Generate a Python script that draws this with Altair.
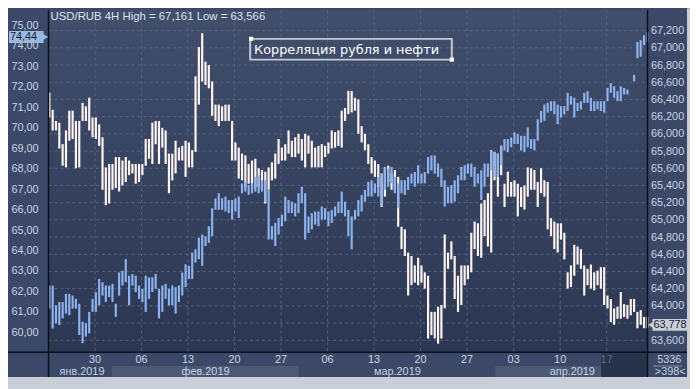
import altair as alt
import pandas as pd

# ---------------- data (12h sampling of the 4H bars) ----------------
rub_high = [66.48, 66.28, 66.15, 66.13, 65.88, 66.04, 66.27, 66.27, 66.15, 66.15,
            66.36, 66.32, 66.42, 66.19, 66.19, 66.11, 65.96, 65.61, 65.65, 65.65,
            65.73, 65.73, 65.69, 65.73, 65.69, 65.65, 65.65, 65.65, 65.65, 65.94,
            65.94, 66.13, 66.15, 66.15, 66.07, 66.04, 65.77, 65.77, 65.92, 65.84,
            65.86, 65.92, 65.90, 65.81, 66.67, 67.01, 67.17, 66.84, 66.80, 66.61,
            66.34, 66.34, 66.32, 66.34, 66.34, 66.15, 65.90, 65.84, 65.77, 65.75,
            65.65, 65.69, 65.71, 65.60, 65.58, 65.56, 65.61, 65.67, 65.77, 65.94,
            65.84, 65.88, 66.04, 65.92, 65.96, 66.00, 65.94, 66.00, 65.98, 65.92,
            65.84, 65.86, 65.88, 65.86, 65.90, 66.04, 66.02, 66.04, 66.27, 66.30,
            66.50, 66.50, 66.42, 66.40, 66.09, 66.00, 65.88, 65.73, 65.69, 65.65,
            65.54, 65.61, 65.63, 65.54, 65.58, 65.50, 64.92, 64.89, 64.62, 64.58,
            64.47, 64.56, 64.47, 64.39, 64.35, 63.93, 63.93, 63.99, 64.01, 64.83,
            64.62, 64.75, 64.58, 64.35, 64.47, 64.47, 64.47, 64.85, 64.98, 64.96,
            65.19, 65.23, 65.31, 65.81, 65.79, 65.77, 65.86, 65.42, 65.56, 65.44,
            65.46, 65.42, 65.38, 65.40, 65.61, 65.60, 65.58, 65.44, 65.60, 65.46,
            65.44, 65.02, 64.98, 64.96, 64.96, 64.85, 64.39, 64.47, 64.71, 64.69,
            64.66, 64.47, 64.43, 64.48, 64.39, 64.41, 64.45, 64.45, 64.12, 64.08,
            63.97, 63.99, 64.16, 64.02, 64.01, 64.08, 64.08, 63.93, 63.95, 63.87,
            63.87]
rub_low = [66.19, 66.04, 66.04, 65.83, 65.63, 65.61, 65.92, 65.94, 65.60, 65.61,
           66.15, 66.15, 66.04, 65.96, 65.94, 65.86, 65.35, 65.17, 65.19, 65.35,
           65.37, 65.33, 65.40, 65.44, 65.52, 65.54, 65.42, 65.44, 65.52, 65.63,
           65.71, 65.65, 65.88, 65.65, 65.84, 65.65, 65.31, 65.46, 65.54, 65.69,
           65.69, 65.50, 65.61, 65.61, 65.79, 66.34, 66.61, 66.57, 66.53, 66.21,
           66.15, 66.09, 66.15, 66.15, 66.15, 65.69, 65.69, 65.48, 65.46, 65.38,
           65.42, 65.42, 65.38, 65.38, 65.35, 65.19, 65.35, 65.46, 65.48, 65.65,
           65.69, 65.69, 65.77, 65.73, 65.73, 65.77, 65.69, 65.61, 65.77, 65.61,
           65.61, 65.61, 65.61, 65.73, 65.77, 65.83, 65.84, 65.86, 65.84, 66.15,
           66.23, 66.25, 66.27, 66.00, 65.90, 65.81, 65.65, 65.54, 65.50, 65.38,
           65.15, 65.27, 65.44, 65.35, 65.35, 64.92, 64.66, 64.58, 64.12, 64.24,
           64.27, 64.24, 64.27, 64.20, 63.62, 63.66, 63.62, 63.56, 63.62, 63.97,
           64.43, 64.54, 64.08, 63.93, 64.01, 64.24, 64.31, 64.39, 64.66, 64.58,
           64.56, 64.81, 64.69, 64.62, 65.46, 65.27, 65.52, 65.15, 65.27, 65.27,
           65.27, 65.04, 65.15, 65.12, 65.27, 65.35, 65.35, 65.15, 65.31, 65.27,
           64.89, 64.81, 64.66, 64.62, 64.77, 64.54, 64.20, 64.22, 64.35, 64.48,
           64.43, 64.12, 64.24, 64.20, 64.18, 64.24, 64.20, 64.01, 63.97, 63.81,
           63.78, 63.85, 63.85, 63.87, 63.85, 63.89, 63.93, 63.74, 63.78, 63.74,
           63.74]
brent_high = [62.29, 62.29, 61.32, 61.48, 61.48, 61.88, 61.88, 61.80, 61.64, 61.40,
              60.52, 60.44, 61.00, 61.64, 61.97, 62.61, 62.45, 62.29, 62.29, 62.37,
              61.40, 62.93, 63.01, 63.58, 62.77, 62.85, 62.77, 62.29, 62.13, 62.77,
              62.69, 62.69, 62.85, 62.13, 62.29, 62.37, 62.13, 62.29, 62.21, 62.29,
              62.93, 63.33, 63.25, 63.90, 64.06, 64.62, 64.78, 64.70, 65.19, 66.07,
              66.55, 66.80, 66.55, 66.64, 66.47, 66.47, 66.55, 66.64, 67.28, 67.36,
              67.20, 67.28, 67.60, 67.68, 67.44, 67.44, 66.96, 65.19, 65.35, 65.59,
              65.75, 66.64, 66.47, 66.39, 66.31, 66.80, 67.12, 66.80, 65.67, 65.83,
              65.91, 65.91, 66.15, 66.07, 65.91, 65.99, 66.15, 66.39, 66.88, 66.39,
              65.99, 65.67, 65.99, 66.47, 66.72, 66.96, 67.36, 67.44, 67.28, 67.60,
              67.76, 68.09, 68.00, 68.09, 67.60, 67.28, 67.44, 67.44, 67.60, 67.76,
              67.84, 68.17, 67.76, 67.84, 68.57, 68.65, 68.65, 68.25, 68.00, 67.44,
              67.12, 67.20, 67.44, 67.68, 68.09, 68.17, 68.25, 68.25, 68.09, 67.76,
              67.92, 68.25, 68.25, 68.89, 68.81, 68.73, 69.13, 69.45, 69.45, 69.53,
              69.78, 69.70, 69.61, 69.61, 70.02, 69.45, 69.45, 70.42, 70.82, 71.14,
              71.22, 71.30, 71.30, 71.14, 71.06, 71.06, 71.71, 71.55, 71.47, 71.22,
              71.30, 71.71, 71.79, 71.47, 71.30, 71.30, 71.30, 71.30, 71.95, 72.19,
              72.03, 71.79, 72.03, 71.95, 71.87, None, 72.59, 74.20, 74.28, 74.53,
              74.69]
brent_low = [61.16, 60.19, 60.44, 60.36, 60.68, 60.92, 60.84, 61.16, 61.16, 59.87,
             59.47, 59.79, 59.95, 61.00, 61.00, 61.32, 61.80, 61.48, 61.72, 61.48,
             60.76, 61.80, 62.29, 62.45, 61.32, 62.29, 61.97, 61.64, 61.48, 61.00,
             61.64, 61.97, 62.13, 60.68, 61.00, 61.64, 61.32, 61.32, 60.92, 61.48,
             61.80, 62.21, 62.61, 62.61, 63.41, 63.58, 63.25, 64.22, 64.38, 64.70,
             65.99, 65.99, 65.99, 65.91, 65.83, 65.51, 65.91, 65.59, 66.80, 66.88,
             66.72, 66.80, 66.88, 66.80, 66.88, 66.39, 64.54, 64.54, 64.22, 64.78,
             65.19, 65.43, 65.83, 65.83, 65.67, 65.83, 66.31, 64.54, 64.86, 65.03,
             65.27, 65.19, 65.51, 65.51, 65.19, 65.35, 65.67, 65.83, 65.83, 65.67,
             64.70, 64.06, 65.51, 65.67, 65.91, 66.39, 66.64, 66.64, 66.80, 66.64,
             66.15, 66.96, 67.12, 67.28, 66.80, 66.07, 66.80, 66.72, 66.96, 67.28,
             67.12, 67.28, 67.28, 67.28, 67.76, 67.92, 67.76, 67.60, 67.12, 66.15,
             66.31, 66.31, 66.39, 66.80, 67.44, 67.44, 67.76, 67.60, 67.12, 67.28,
             66.47, 67.12, 67.60, 67.92, 67.60, 67.60, 68.17, 68.89, 68.81, 69.05,
             69.21, 69.21, 68.89, 68.81, 69.05, 68.97, 68.89, 69.37, 70.26, 70.34,
             70.74, 70.82, 70.66, 70.18, 70.50, 70.66, 70.82, 71.14, 70.50, 70.82,
             70.90, 71.22, 71.22, 70.82, 70.82, 70.90, 70.82, 70.74, 71.30, 71.71,
             71.47, 71.30, 71.30, 71.63, 71.63, None, 72.27, 73.40, 73.48, 74.04,
             74.20]

tick_dates = ["2019-01-30T00:00:00", "2019-02-06T00:00:00", "2019-02-13T00:00:00",
              "2019-02-20T00:00:00", "2019-02-27T00:00:00", "2019-03-06T00:00:00",
              "2019-03-13T00:00:00", "2019-03-20T00:00:00", "2019-03-27T00:00:00",
              "2019-04-03T00:00:00", "2019-04-10T00:00:00", "2019-04-17T00:00:00"]
tick_labels = ["30", "06", "13", "20", "27", "06", "13", "20", "27", "03", "10", "17"]

month_labels = ["янв.2019", "фев.2019", "мар.2019", "апр.2019"]
month_label_dates = ["2019-01-28T01:00:00", "2019-02-15T15:00:00",
                     "2019-03-16T12:00:00", "2019-04-11T20:00:00"]
band_starts = ["2019-02-01T12:00:00", "2019-03-31T06:00:00"]
band_ends = ["2019-03-01T15:00:00", "2019-04-16T04:00:00"]
selection_start = "2019-04-16T04:00:00"

# right-axis grid levels; the 63,800 label is hidden behind the last-price tag
rub_ticks = [63.6, 63.8, 64.0, 64.2, 64.4, 64.6, 64.8, 65.0, 65.2, 65.4,
             65.6, 65.8, 66.0, 66.2, 66.4, 66.6, 66.8, 67.0, 67.2]
rub_label_ticks = [63.6, 64.0, 64.2, 64.4, 64.6, 64.8, 65.0, 65.2, 65.4,
                   65.6, 65.8, 66.0, 66.2, 66.4, 66.6, 66.8, 67.0, 67.2]
brent_ticks = [60, 61, 62, 63, 64, 65, 66, 67, 68, 69, 70, 71, 72, 73, 74, 75]

last_brent = 74.44
last_rub = 63.778
title_text = "USD/RUB 4H High = 67,161 Low = 63,566"
note_text = "Корреляция рубля и нефти"
bars_count_text = "5336"
visible_text = ">398<"

# ---------------- styling ----------------
W, H = 606, 346
FONT = "Liberation Sans Narrow, Arial Narrow, Liberation Sans, sans-serif"
PANEL = "#3b4867"
LABEL = "#c9d3e6"
GRID = "#56637f"
WHITE_BAR = "#fff4f0"
BLUE_BAR = "#8db2ee"
EDGE = "#c8cfd9"
LINE = "#0b101b"
BAR_W = 2.2

bar_times = pd.date_range("2019-01-23 03:00", periods=len(rub_high), freq="12h").strftime(
    "%Y-%m-%dT%H:%M:%S").tolist()

bars = pd.DataFrame({"t": bar_times, "rub_high": rub_high, "rub_low": rub_low,
                     "brent_high": brent_high, "brent_low": brent_low})
ticks_df = pd.DataFrame({"d": tick_dates, "label": tick_labels})
months_df = pd.DataFrame({"d": month_label_dates, "label": month_labels})
bands_df = pd.DataFrame({"s": band_starts, "e": band_ends})
one = pd.DataFrame({"k": [0]})

x_scale = alt.Scale(domain=[alt.DateTime(year=2019, month=1, date=23, hours=0),
                            alt.DateTime(year=2019, month=4, date=23, hours=3, minutes=30)])
brent_scale = alt.Scale(domain=[59.03, 75.75], nice=False, zero=False)
rub_scale = alt.Scale(domain=[63.461, 67.438], nice=False, zero=False)

left_axis = alt.Axis(orient="left", values=brent_ticks, title=None, grid=False, ticks=False,
                     domain=False, labelAlign="left", labelPadding=38, labelColor=LABEL,
                     labelFont=FONT, labelFontSize=11, labelOverlap=False,
                     labelExpr="replace(format(datum.value, '.2f'), '.', ',')")
right_axis = alt.Axis(orient="right", values=rub_label_ticks, title=None, grid=False, ticks=False,
                      domain=False, labelAlign="left", labelPadding=3, labelColor=LABEL,
                      labelFont=FONT, labelFontSize=11, labelOverlap=False,
                      labelExpr="replace(format(datum.value, '.3f'), '.', ',')")

plot_bg = alt.Chart(one).mark_rect(
    fill=alt.LinearGradient(gradient="linear",
                            stops=[alt.GradientStop(color="#414e6c", offset=0),
                                   alt.GradientStop(color="#2b3752", offset=1)],
                            x1=0, x2=0, y1=0, y2=1)
).encode(x=alt.value(0), x2=alt.value(W), y=alt.value(0), y2=alt.value(H))

hgrid = alt.Chart(pd.DataFrame({"v": rub_ticks})).mark_rule(
    color=GRID, strokeDash=[3, 3], strokeWidth=1
).encode(y=alt.Y("v:Q", scale=rub_scale, axis=None), x=alt.value(0), x2=alt.value(W))

vgrid = alt.Chart(ticks_df).mark_rule(color=GRID, strokeDash=[3, 3], strokeWidth=1).encode(
    x=alt.X("d:T", scale=x_scale, axis=None), y=alt.value(0), y2=alt.value(H))

rub_layer = alt.Chart(bars).mark_rule(color=WHITE_BAR, strokeWidth=BAR_W).encode(
    x=alt.X("t:T", scale=x_scale, axis=None),
    y=alt.Y("rub_low:Q", scale=rub_scale, axis=right_axis),
    y2="rub_high:Q")

brent_layer = alt.Chart(bars).mark_rule(color=BLUE_BAR, strokeWidth=BAR_W).encode(
    x=alt.X("t:T", scale=x_scale, axis=None),
    y=alt.Y("brent_low:Q", scale=brent_scale, axis=left_axis),
    y2="brent_high:Q")

bands = alt.Chart(bands_df).mark_rect(fill="#4c5975").encode(
    x=alt.X("s:T", scale=x_scale, axis=None), x2="e:T",
    y=alt.value(360), y2=alt.value(371))

tick_text = alt.Chart(ticks_df).mark_text(
    font=FONT, fontSize=11, color=LABEL, align="center", baseline="middle"
).encode(x=alt.X("d:T", scale=x_scale, axis=None), y=alt.value(354), text="label:N")

month_text = alt.Chart(months_df).mark_text(
    font=FONT, fontSize=11, color=LABEL, align="center", baseline="middle"
).encode(x=alt.X("d:T", scale=x_scale, axis=None), y=alt.value(366), text="label:N")

sel_box = alt.Chart(pd.DataFrame({"s": [selection_start]})).mark_rect(
    fill="#1b2438", opacity=0.6
).encode(x=alt.X("s:T", scale=x_scale, axis=None), x2=alt.value(W),
         y=alt.value(347), y2=alt.value(371))

# frame lines
line_left = alt.Chart(one).mark_rule(color=LINE, strokeWidth=1.5).encode(
    x=alt.value(0), y=alt.value(0), y2=alt.value(371))
line_right = alt.Chart(one).mark_rule(color=LINE, strokeWidth=1.5).encode(
    x=alt.value(W), y=alt.value(0), y2=alt.value(371))
line_bottom = alt.Chart(one).mark_rule(color=LINE, strokeWidth=1.5).encode(
    x=alt.value(-41), x2=alt.value(646), y=alt.value(H))
edge_right = alt.Chart(one).mark_rect(fill=EDGE).encode(
    x=alt.value(646), x2=alt.value(652), y=alt.value(-2), y2=alt.value(384))
edge_bottom = alt.Chart(one).mark_rect(fill=EDGE).encode(
    x=alt.value(-45), x2=alt.value(652), y=alt.value(371), y2=alt.value(384))

# bottom-right counters
counter_sep = alt.Chart(one).mark_rule(color="#8a95ab", strokeWidth=1).encode(
    x=alt.value(612), x2=alt.value(641), y=alt.value(360))
counter1 = alt.Chart(one).mark_text(font=FONT, fontSize=11, color=LABEL, align="center",
                                     baseline="middle", text=bars_count_text).encode(
    x=alt.value(628), y=alt.value(354))
counter2 = alt.Chart(one).mark_text(font=FONT, fontSize=11, color=LABEL, align="center",
                                     baseline="middle", text=visible_text).encode(
    x=alt.value(629), y=alt.value(366))

# price tags
brent_tag_df = pd.DataFrame({"v": [last_brent], "label": ["74,44"]})
rub_tag_df = pd.DataFrame({"v": [last_rub], "label": ["63,778"]})

brent_tag = alt.Chart(brent_tag_df).mark_rule(color="#9ab8e0", strokeWidth=12).encode(
    x=alt.value(-40), x2=alt.value(-5), y=alt.Y("v:Q", scale=brent_scale, axis=None))
brent_tag_tip = alt.Chart(brent_tag_df).mark_point(
    shape="triangle-right", filled=True, color="#9ab8e0", size=70, opacity=1
).encode(x=alt.value(-4), y=alt.Y("v:Q", scale=brent_scale, axis=None))
brent_tag_text = alt.Chart(brent_tag_df).mark_text(
    font=FONT, fontSize=11, color="#13203a", align="left", baseline="middle"
).encode(x=alt.value(-39), y=alt.Y("v:Q", scale=brent_scale, axis=None), text="label:N")

rub_tag = alt.Chart(rub_tag_df).mark_rule(color="#c9cdd4", strokeWidth=12).encode(
    x=alt.value(611), x2=alt.value(646), y=alt.Y("v:Q", scale=rub_scale, axis=None))
rub_tag_tip = alt.Chart(rub_tag_df).mark_point(
    shape="triangle-left", filled=True, color="#c9cdd4", size=70, opacity=1
).encode(x=alt.value(610), y=alt.Y("v:Q", scale=rub_scale, axis=None))
rub_tag_text = alt.Chart(rub_tag_df).mark_text(
    font=FONT, fontSize=11, color="#13203a", align="left", baseline="middle"
).encode(x=alt.value(612), y=alt.Y("v:Q", scale=rub_scale, axis=None), text="label:N")

# title and annotation
title = alt.Chart(one).mark_text(font=FONT, fontSize=11.5, color="#dde3ee", align="left",
                                  baseline="middle", text=title_text).encode(
    x=alt.value(2), y=alt.value(7))
note_box = alt.Chart(one).mark_rect(fill="transparent", stroke="#c4c8cf", strokeWidth=2).encode(
    x=alt.value(204), x2=alt.value(408), y=alt.value(29), y2=alt.value(50))
note_handles = alt.Chart(pd.DataFrame({"px": [205, 408], "py": [29, 50]})).mark_square(
    color="#ffffff", filled=True, size=18, opacity=1
).encode(x=alt.X("px:Q", scale=alt.Scale(domain=[0, W]), axis=None),
         y=alt.Y("py:Q", scale=alt.Scale(domain=[H, 0]), axis=None))
note_text_mark = alt.Chart(one).mark_text(font="DejaVu Sans", fontSize=13, fontWeight="normal",
                                           color="#ffffff", align="left", baseline="alphabetic",
                                           text=note_text).encode(
    x=alt.value(208), y=alt.value(44))

chart = alt.layer(
    plot_bg, hgrid, vgrid, rub_layer, brent_layer,
    bands, tick_text, month_text, sel_box,
    line_left, line_right, line_bottom, edge_right, edge_bottom,
    counter_sep, counter1, counter2,
    brent_tag, brent_tag_tip, brent_tag_text, rub_tag, rub_tag_tip, rub_tag_text,
    title, note_box, note_handles, note_text_mark
).resolve_scale(y="independent", x="shared").properties(
    width=W, height=H,
    autosize=alt.AutoSizeParams(type="none"),
    padding={"left": 41, "top": 0, "right": 43, "bottom": 35},
    background=PANEL
).configure_view(stroke=None)

chart.save("out.html", embed_options={"renderer": "svg", "actions": False})
